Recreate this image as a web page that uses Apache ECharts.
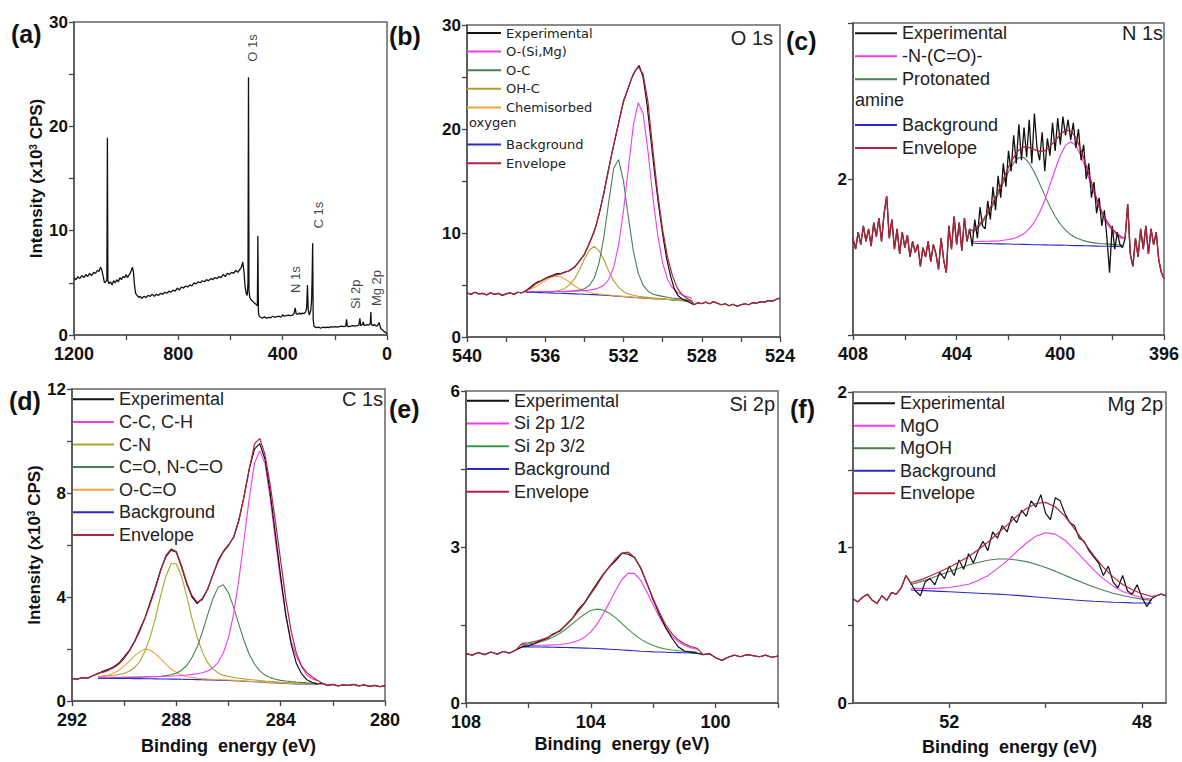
<!DOCTYPE html>
<html><head><meta charset="utf-8">
<script src="https://cdn.jsdelivr.net/npm/echarts@6/dist/echarts.min.js"></script>
<style>html,body{margin:0;padding:0;background:#fff}#c{width:1182px;height:762px}</style>
</head><body><div id="c"></div>
<script>
// ---------------- DATA ----------------
// (a) survey spectrum [binding energy eV, intensity x10^3 CPS]
const aSpectrum = [[1200,5.5],[1192,5.3],[1185,5.6],[1178,5.4],[1170,5.7],[1162,5.5],[1155,5.8],[1148,5.6],[1140,5.9],[1132,5.7],[1125,6.0],[1118,5.9],[1110,6.2],[1104,6.1],[1098,6.5],[1093,6.2],[1088,5.6],[1083,5.0],[1078,5.1],[1074,5.3],[1072,18.9],[1070,5.2],[1066,4.9],[1060,5.1],[1054,4.8],[1048,5.2],[1042,5.0],[1036,5.3],[1030,5.1],[1024,5.5],[1018,5.3],[1012,5.6],[1006,5.5],[1000,5.8],[995,5.5],[990,5.7],[985,5.9],[980,6.2],[976,6.5],[972,6.0],[968,4.8],[964,4.0],[958,3.8],[952,3.6],[946,3.7],[940,3.5],[932,3.7],[924,3.6],[916,3.8],[908,3.7],[900,3.9],[892,3.7],[884,3.9],[876,3.8],[868,4.0],[860,3.9],[852,4.1],[844,4.0],[836,4.2],[828,4.1],[820,4.3],[812,4.2],[804,4.5],[796,4.3],[788,4.6],[780,4.5],[772,4.7],[764,4.6],[756,4.8],[748,4.7],[740,5.0],[732,4.9],[724,5.1],[716,5.0],[708,5.2],[700,5.1],[692,5.3],[684,5.2],[676,5.4],[668,5.3],[660,5.5],[652,5.4],[644,5.6],[636,5.5],[628,5.8],[620,5.6],[612,5.9],[604,5.8],[596,6.0],[588,5.9],[580,6.2],[572,6.0],[564,6.3],[558,6.5],[553,7.0],[548,6.0],[544,4.6],[540,4.0],[536,3.8],[533,5.0],[531,24.7],[529,4.2],[526,3.6],[522,3.4],[518,3.3],[514,3.2],[510,3.1],[505,3.0],[500,2.9],[497,2.8],[495,9.5],[493,2.2],[490,1.8],[485,1.7],[478,1.6],[470,1.75],[462,1.6],[454,1.7],[446,1.65],[438,1.8],[430,1.7],[422,1.75],[414,1.8],[406,1.7],[400,1.95],[394,1.8],[386,1.85],[378,1.9],[370,1.85],[362,1.9],[356,2.1],[352,2.6],[348,2.0],[342,2.0],[336,2.1],[330,2.0],[324,2.1],[318,2.05],[312,2.2],[308,2.6],[305,4.8],[302,2.4],[298,1.9],[292,2.4],[289,3.4],[287,5.5],[285,8.8],[283,1.5],[280,0.85],[276,0.75],[270,0.7],[262,0.75],[254,0.65],[246,0.75],[238,0.7],[230,0.75],[222,0.7],[214,0.8],[206,0.75],[198,0.8],[190,0.75],[182,0.8],[174,0.85],[166,0.8],[158,0.85],[155,1.5],[152,0.85],[146,0.8],[138,0.85],[130,0.9],[122,0.85],[114,0.9],[108,0.95],[104,1.6],[101,0.9],[95,1.0],[91,1.25],[88,0.9],[82,0.95],[76,1.0],[70,0.95],[64,1.1],[62,2.2],[60,1.0],[54,0.9],[48,1.0],[42,0.85],[36,0.9],[30,1.2],[28,1.0],[24,0.6],[18,0.5],[12,0.35],[6,0.25],[0,0.1]];
const aPeakNames = ['O 1s','C 1s','N 1s','Si 2p','Mg 2p'];
const aPeakAt = [[516,27.5],[264,11.5],[349,5.3],[119,3.9],[42,4.5]];

// (b) O 1s
const bExp = [[540.0,4.25],[539.8,4.1],[539.6,4.3],[539.4,4.15],[539.2,4.2],[539.0,4.05],[538.8,4.25],[538.6,4.1],[538.4,4.2],[538.2,4.0],[538.0,4.15],[537.8,4.25],[537.6,4.1],[537.4,4.3],[537.2,4.25],[537.0,4.4],[536.8,4.75],[536.6,5.05],[536.4,5.3],[536.2,5.4],[536.0,5.65],[535.8,5.8],[535.6,5.95],[535.4,6.1],[535.2,6.1],[535.0,6.25],[534.8,6.35],[534.6,6.6],[534.4,6.95],[534.2,7.45],[534.0,7.95],[533.8,8.8],[533.6,9.7],[533.4,10.7],[533.2,12.2],[533.0,13.9],[532.8,15.8],[532.6,17.6],[532.4,19.3],[532.2,21.0],[532.0,22.7],[531.8,23.7],[531.6,24.8],[531.4,25.6],[531.2,26.1],[531.0,25.0],[530.8,22.4],[530.6,19.0],[530.4,15.6],[530.2,12.6],[530.0,9.9],[529.8,7.6],[529.6,5.9],[529.4,4.6],[529.2,3.95],[529.0,3.65],[528.8,3.5],[528.6,3.3],[528.4,3.1],[528.2,3.3],[528.0,3.2],[527.8,3.35],[527.6,3.2],[527.4,3.4],[527.2,3.25],[527.0,3.1],[526.8,3.2],[526.6,3.0],[526.4,3.15],[526.2,2.95],[526.0,3.1],[525.8,3.2],[525.6,3.1],[525.4,3.3],[525.2,3.25],[525.0,3.4],[524.8,3.35],[524.6,3.5],[524.4,3.45],[524.2,3.6],[524.0,3.75]];
const bFitE = [537.0,536.75,536.5,536.25,536.0,535.75,535.5,535.25,535.0,534.75,534.5,534.25,534.0,533.75,533.5,533.25,533.0,532.75,532.5,532.25,532.0,531.75,531.5,531.25,531.0,530.75,530.5,530.25,530.0,529.75,529.5,529.25,529.0,528.75,528.5];
const bOSiMg = [4.39,4.38,4.38,4.38,4.38,4.38,4.37,4.38,4.39,4.40,4.41,4.43,4.47,4.51,4.58,4.73,5.00,5.55,6.71,8.85,12.15,16.25,20.31,22.52,21.51,17.87,13.46,9.77,7.11,5.56,4.74,4.31,4.06,3.88,3.73];
const bOC = [4.37,4.37,4.37,4.37,4.36,4.37,4.37,4.38,4.39,4.41,4.45,4.51,4.64,4.94,5.65,7.11,9.66,13.05,16.25,17.05,14.98,11.51,8.30,6.16,4.99,4.40,4.14,4.00,3.91,3.82,3.75,3.70,3.64,3.55,3.46];
const bOHC = [4.36,4.36,4.36,4.37,4.37,4.38,4.42,4.50,4.67,5.03,5.59,6.46,7.50,8.34,8.72,8.30,7.41,6.32,5.39,4.78,4.36,4.14,4.01,3.92,3.86,3.81,3.76,3.73,3.69,3.65,3.62,3.58,3.54,3.47,3.38];
const bChem = [4.51,4.64,4.82,5.10,5.40,5.69,5.85,5.82,5.58,5.26,4.91,4.62,4.43,4.28,4.19,4.13,4.08,4.04,3.99,3.95,3.91,3.87,3.83,3.79,3.76,3.72,3.69,3.67,3.64,3.61,3.58,3.55,3.51,3.44,3.36];
const bBackground = [4.30,4.29,4.28,4.27,4.25,4.24,4.22,4.21,4.19,4.17,4.15,4.13,4.11,4.09,4.07,4.05,4.02,3.99,3.95,3.92,3.88,3.85,3.81,3.78,3.74,3.71,3.68,3.66,3.63,3.60,3.57,3.54,3.50,3.43,3.35];
const bEnvelope = [4.45,4.7,5.1,5.35,5.6,5.8,5.95,6.05,6.2,6.4,6.7,7.3,7.95,8.95,10.1,11.8,13.8,16.2,18.5,20.6,22.6,24.0,25.3,26.0,25.3,22.6,18.0,13.8,10.3,7.7,5.9,4.7,4.05,3.7,3.45];

// (c) N 1s
const cExp = [[408.0,1.62],[407.9,1.55],[407.8,1.66],[407.7,1.58],[407.6,1.70],[407.5,1.60],[407.4,1.68],[407.3,1.57],[407.2,1.72],[407.1,1.63],[407.0,1.75],[406.9,1.60],[406.8,1.78],[406.7,1.89],[406.6,1.62],[406.5,1.74],[406.4,1.55],[406.3,1.68],[406.2,1.52],[406.1,1.66],[406.0,1.56],[405.9,1.64],[405.8,1.50],[405.7,1.60],[405.6,1.53],[405.5,1.58],[405.4,1.44],[405.3,1.56],[405.2,1.50],[405.1,1.60],[405.0,1.47],[404.9,1.58],[404.8,1.52],[404.7,1.42],[404.6,1.62],[404.5,1.48],[404.4,1.40],[404.3,1.70],[404.2,1.55],[404.1,1.76],[404.0,1.58],[403.9,1.72],[403.8,1.54],[403.7,1.75],[403.6,1.60],[403.5,1.68],[403.4,1.57],[403.3,1.74],[403.2,1.62],[403.1,1.82],[403.0,1.70],[402.9,1.68],[402.8,1.86],[402.7,1.74],[402.6,1.95],[402.5,1.80],[402.4,2.02],[402.3,1.88],[402.2,2.10],[402.1,1.95],[402.0,2.18],[401.9,2.05],[401.8,2.28],[401.7,2.10],[401.6,2.35],[401.5,2.12],[401.4,2.33],[401.3,2.14],[401.2,2.38],[401.1,2.10],[401.0,2.42],[400.9,2.20],[400.8,2.12],[400.7,2.30],[400.6,2.05],[400.5,2.26],[400.4,2.15],[400.3,2.36],[400.2,2.18],[400.1,2.39],[400.0,2.22],[399.9,2.40],[399.8,2.28],[399.7,2.38],[399.6,2.25],[399.5,2.36],[399.4,2.20],[399.3,2.32],[399.2,2.12],[399.1,2.22],[399.0,2.00],[398.9,2.10],[398.8,1.88],[398.7,1.98],[398.6,1.78],[398.5,1.88],[398.4,1.70],[398.3,1.80],[398.2,1.62],[398.1,1.40],[398.0,1.70],[397.9,1.55],[397.8,1.66],[397.7,1.58],[397.6,1.56],[397.5,1.62],[397.4,1.84],[397.3,1.52],[397.2,1.44],[397.1,1.62],[397.0,1.50],[396.9,1.68],[396.8,1.55],[396.7,1.70],[396.6,1.52],[396.5,1.68],[396.4,1.58],[396.3,1.66],[396.2,1.48],[396.1,1.40],[396.0,1.36]];
const cFitE = [403.4,403.2,403.0,402.8,402.6,402.4,402.2,402.0,401.8,401.6,401.4,401.2,401.0,400.8,400.6,400.4,400.2,400.0,399.8,399.6,399.4,399.2,399.0,398.8,398.6,398.4,398.2,398.0,397.8,397.6];
const cNCO = [1.599,1.599,1.600,1.601,1.602,1.603,1.607,1.612,1.618,1.631,1.650,1.680,1.724,1.785,1.864,1.963,2.061,2.151,2.217,2.239,2.215,2.148,2.057,1.957,1.856,1.775,1.714,1.668,1.636,1.615];
const cProtonated = [1.657,1.684,1.721,1.771,1.831,1.901,1.976,2.047,2.103,2.138,2.137,2.101,2.043,1.971,1.895,1.823,1.761,1.710,1.672,1.643,1.623,1.610,1.600,1.594,1.589,1.585,1.584,1.581,1.578,1.576];
const cBackground = [1.588,1.587,1.587,1.586,1.585,1.584,1.584,1.583,1.582,1.582,1.581,1.580,1.579,1.579,1.578,1.577,1.576,1.576,1.575,1.574,1.573,1.573,1.572,1.571,1.570,1.569,1.569,1.568,1.567,1.566];
const cEnvelope = [1.668,1.696,1.734,1.786,1.848,1.920,1.999,2.076,2.139,2.187,2.206,2.201,2.188,2.177,2.181,2.209,2.246,2.285,2.314,2.308,2.265,2.185,2.085,1.980,1.875,1.791,1.729,1.681,1.647,1.625];

// (d) C 1s
const dExp = [[292.0,0.86],[291.8,0.84],[291.6,0.90],[291.4,0.88],[291.2,0.97],[291.0,1.05],[290.8,1.15],[290.6,1.22],[290.4,1.32],[290.2,1.46],[290.0,1.70],[289.8,1.95],[289.6,2.30],[289.4,2.75],[289.2,3.20],[289.0,3.80],[288.8,4.40],[288.6,5.05],[288.4,5.55],[288.2,5.80],[288.0,5.72],[287.8,5.15],[287.6,4.50],[287.4,4.00],[287.2,3.75],[287.0,3.95],[286.8,4.30],[286.6,4.85],[286.4,5.40],[286.2,5.75],[286.0,6.00],[285.8,6.30],[285.6,6.95],[285.4,7.90],[285.2,8.95],[285.0,9.70],[284.8,9.90],[284.6,9.30],[284.4,8.00],[284.2,6.40],[284.0,4.80],[283.8,3.30],[283.6,2.20],[283.4,1.45],[283.2,1.05],[283.0,0.82],[282.8,0.72],[282.6,0.65],[282.4,0.68],[282.2,0.60],[282.0,0.64],[281.8,0.58],[281.6,0.62],[281.4,0.60],[281.2,0.64],[281.0,0.58],[280.8,0.62],[280.6,0.56],[280.4,0.60],[280.2,0.55],[280.0,0.58]];
const dFitE = [291.0,290.8,290.6,290.4,290.2,290.0,289.8,289.6,289.4,289.2,289.0,288.8,288.6,288.4,288.2,288.0,287.8,287.6,287.4,287.2,287.0,286.8,286.6,286.4,286.2,286.0,285.8,285.6,285.4,285.2,285.0,284.8,284.6,284.4,284.2,284.0,283.8,283.6,283.4,283.2,283.0,282.8,282.6];
const dCC = [0.906,0.907,0.909,0.911,0.913,0.916,0.918,0.922,0.925,0.928,0.932,0.937,0.942,0.950,0.959,0.969,0.983,1.001,1.024,1.051,1.087,1.152,1.271,1.478,1.846,2.44,3.36,4.69,6.23,7.83,9.15,9.63,9.13,7.78,6.16,4.60,3.25,2.31,1.71,1.33,1.00,0.86,0.78];
const dCN = [0.949,0.959,0.974,0.991,1.019,1.063,1.142,1.289,1.519,1.917,2.475,3.19,4.05,4.80,5.28,5.28,4.79,4.03,3.17,2.444,1.88,1.474,1.236,1.081,0.994,0.943,0.904,0.876,0.85,0.829,0.81,0.791,0.772,0.754,0.738,0.721,0.71,0.699,0.688,0.682,0.676,0.67,0.664];
const dCO = [0.897,0.898,0.900,0.902,0.904,0.908,0.910,0.913,0.918,0.923,0.932,0.940,0.952,0.975,1.009,1.068,1.186,1.366,1.674,2.074,2.66,3.31,3.93,4.37,4.47,4.16,3.60,2.94,2.31,1.78,1.413,1.158,0.996,0.899,0.836,0.794,0.768,0.745,0.728,0.715,0.703,0.694,0.684];
const dOCO = [0.93,0.956,1.001,1.076,1.186,1.344,1.536,1.734,1.902,1.994,1.961,1.818,1.624,1.416,1.231,1.102,1.001,0.94,0.899,0.875,0.86,0.846,0.835,0.825,0.816,0.808,0.796,0.785,0.773,0.762,0.751,0.738,0.726,0.714,0.702,0.69,0.682,0.674,0.666,0.662,0.658,0.654,0.65];
const dBackground = [0.870,0.869,0.868,0.867,0.866,0.865,0.863,0.861,0.859,0.857,0.855,0.852,0.849,0.846,0.843,0.840,0.836,0.832,0.828,0.824,0.820,0.814,0.808,0.802,0.796,0.790,0.780,0.770,0.760,0.750,0.740,0.728,0.716,0.704,0.692,0.680,0.672,0.664,0.656,0.652,0.648,0.644,0.640];
const dEnvelope = [1.072,1.113,1.18,1.279,1.424,1.636,1.917,2.275,2.687,3.191,3.735,4.331,5.02,5.599,5.85,5.75,5.2,4.55,4.05,3.8,3.9,4.3,4.85,5.35,5.73,5.98,6.32,6.98,7.88,8.95,9.9,10.1,9.47,8.3,6.9,5.4,3.9,2.7,1.85,1.35,1.1,0.93,0.8];

// (e) Si 2p
const eExp = [[108.0,0.95],[107.8,0.92],[107.6,0.97],[107.4,0.93],[107.2,0.98],[107.0,0.94],[106.8,0.99],[106.6,0.96],[106.4,1.02],[106.2,1.08],[106.0,1.10],[105.8,1.14],[105.6,1.20],[105.4,1.24],[105.2,1.33],[105.0,1.38],[104.8,1.50],[104.6,1.62],[104.4,1.80],[104.2,1.93],[104.0,2.12],[103.8,2.30],[103.6,2.48],[103.4,2.62],[103.2,2.74],[103.0,2.88],[102.8,2.86],[102.6,2.80],[102.4,2.60],[102.2,2.30],[102.0,1.98],[101.8,1.70],[101.6,1.45],[101.4,1.25],[101.2,1.08],[101.0,1.00],[100.8,0.98],[100.6,0.96],[100.4,0.93],[100.2,0.95],[100.0,0.87],[99.8,0.82],[99.6,0.88],[99.4,0.92],[99.2,0.89],[99.0,0.93],[98.8,0.91],[98.6,0.89],[98.4,0.92],[98.2,0.88],[98.0,0.90]];
const eFitE = [106.2,106.0,105.8,105.6,105.4,105.2,105.0,104.8,104.6,104.4,104.2,104.0,103.8,103.6,103.4,103.2,103.0,102.8,102.6,102.4,102.2,102.0,101.8,101.6,101.4,101.2,101.0,100.8,100.6];
const eSi12 = [1.104,1.105,1.107,1.11,1.113,1.117,1.126,1.139,1.163,1.203,1.266,1.367,1.512,1.716,1.935,2.168,2.38,2.497,2.489,2.356,2.13,1.884,1.655,1.441,1.287,1.179,1.109,1.062,1.032];
const eSi32 = [1.121,1.133,1.152,1.179,1.218,1.27,1.336,1.424,1.52,1.619,1.708,1.778,1.805,1.788,1.727,1.636,1.525,1.415,1.316,1.228,1.157,1.104,1.065,1.038,1.018,1.005,0.996,0.988,0.981];
const eBackground = [1.080,1.079,1.078,1.076,1.074,1.072,1.070,1.067,1.064,1.060,1.056,1.052,1.047,1.041,1.035,1.028,1.020,1.012,1.004,0.996,0.990,0.984,0.980,0.976,0.972,0.969,0.966,0.963,0.960];
const eEnvelope = [1.145,1.159,1.181,1.213,1.257,1.315,1.392,1.496,1.619,1.762,1.918,2.093,2.27,2.463,2.627,2.776,2.885,2.90,2.801,2.588,2.297,2.004,1.74,1.503,1.333,1.215,1.139,1.087,1.053];

// (f) Mg 2p
const fExp = [[54.0,0.67],[53.9,0.65],[53.8,0.68],[53.7,0.70],[53.6,0.66],[53.5,0.64],[53.4,0.69],[53.3,0.66],[53.2,0.71],[53.1,0.70],[53.0,0.74],[52.9,0.82],[52.8,0.77],[52.7,0.72],[52.6,0.69],[52.5,0.78],[52.4,0.80],[52.3,0.76],[52.2,0.84],[52.1,0.80],[52.0,0.88],[51.9,0.82],[51.8,0.92],[51.7,0.86],[51.6,0.96],[51.5,0.90],[51.4,0.98],[51.3,1.04],[51.2,0.98],[51.1,1.10],[51.0,1.06],[50.9,1.14],[50.8,1.10],[50.7,1.20],[50.6,1.16],[50.5,1.24],[50.4,1.20],[50.3,1.30],[50.2,1.26],[50.1,1.34],[50.0,1.22],[49.9,1.18],[49.8,1.32],[49.7,1.30],[49.6,1.22],[49.5,1.16],[49.4,1.14],[49.3,1.06],[49.2,1.04],[49.1,0.98],[49.0,0.94],[48.9,0.90],[48.8,0.82],[48.7,0.88],[48.6,0.78],[48.5,0.74],[48.4,0.82],[48.3,0.72],[48.2,0.70],[48.1,0.76],[48.0,0.68],[47.9,0.62],[47.8,0.67],[47.7,0.69],[47.6,0.70],[47.5,0.69]];
const fFitE = [52.8,52.6,52.4,52.2,52.0,51.8,51.6,51.4,51.2,51.0,50.8,50.6,50.4,50.2,50.0,49.8,49.6,49.4,49.2,49.0,48.8,48.6,48.4,48.2,48.0,47.8];
const fMgO = [0.738,0.737,0.737,0.739,0.743,0.752,0.764,0.788,0.819,0.864,0.914,0.973,1.029,1.073,1.095,1.086,1.047,0.987,0.921,0.856,0.798,0.753,0.717,0.694,0.678,0.667];
const fMgOH = [0.762,0.779,0.801,0.823,0.845,0.867,0.887,0.904,0.918,0.926,0.926,0.92,0.909,0.892,0.872,0.848,0.822,0.795,0.77,0.746,0.725,0.706,0.691,0.678,0.668,0.66];
const fBackground = [0.727,0.724,0.721,0.718,0.715,0.712,0.709,0.706,0.703,0.700,0.696,0.692,0.687,0.682,0.677,0.672,0.667,0.662,0.658,0.654,0.651,0.648,0.646,0.644,0.643,0.642];
const fEnvelope = [0.773,0.792,0.817,0.844,0.873,0.907,0.942,0.986,1.034,1.09,1.144,1.201,1.251,1.283,1.29,1.262,1.202,1.12,1.033,0.948,0.872,0.811,0.762,0.728,0.703,0.685];
// tick / label values for the Mg 2p energy axis
const fTicks = [48, 50, 52];
const fTickLabels = [48, 52];

// ---------------- BUILD ----------------
const FONT = '"Liberation Sans", Arial, sans-serif';
const C = { exp:'#111111', mag:'#ee3cee', green:'#4a7d55', green2:'#3a9a45', olive:'#a6a62a', orange:'#f2a33c', blue:'#2b2bc8', env:'#b0243c' };
const zip = (xs, ys) => xs.map((x, i) => [x, ys[i]]);
function fullEnvelope(exp, fitE, fitY) {
  const hi = fitE[0], lo = fitE[fitE.length - 1];
  return exp.filter(p => p[0] > hi + 1e-9).concat(zip(fitE, fitY), exp.filter(p => p[0] < lo - 1e-9));
}
const isMultiple = (v, s) => Math.abs(v / s - Math.round(v / s)) < 1e-6;

const grids = [
  {left:74, top:22, width:313, height:313},
  {left:467, top:25, width:313, height:312},
  {left:853, top:23, width:313, height:312},
  {left:72, top:389, width:313, height:312},
  {left:466, top:391, width:312, height:312},
  {left:853, top:392, width:313, height:311}
].map(g => Object.assign({show:true, borderColor:'#666', borderWidth:1.5, backgroundColor:'transparent'}, g));

function xAx(i, min, max, step, every, name, gap) {
  return { gridIndex:i, type:'value', min, max, interval:step, inverse:true,
    axisLine:{show:true, onZero:false, lineStyle:{color:'#555', width:1.6}},
    axisTick:{show:true, inside:false, length:5, lineStyle:{color:'#444', width:1.3}},
    splitLine:{show:false},
    axisLabel:{show:true, margin:11, lineHeight:15, color:'#111', fontSize:18, fontWeight:'bold', fontFamily:FONT, showMinLabel:true, showMaxLabel:true,
      formatter: v => isMultiple(v, every) ? String(v) : ''},
    name: name || '', nameLocation:'middle', nameGap: gap || 30,
    nameTextStyle:{color:'#111', fontSize:18, fontWeight:'bold', fontFamily:FONT} };
}
function yAx(i, min, max, step, every, withName) {
  return { gridIndex:i, type:'value', min, max, interval:step,
    axisLine:{show:true, onZero:false, lineStyle:{color:'#555', width:1.6}},
    axisTick:{show:true, inside:false, length:5, lineStyle:{color:'#444', width:1.3}},
    splitLine:{show:false},
    axisLabel:{show:true, margin:6, lineHeight:14, color:'#111', fontSize:17, fontWeight:'bold', fontFamily:FONT, showMinLabel:true, showMaxLabel:true,
      formatter: v => isMultiple(v, every) ? String(v) : ''},
    name: withName ? 'Intensity (x10{sup|3} CPS)' : '', nameLocation:'middle', nameGap:26, nameRotate:90,
    nameTextStyle:{color:'#111', fontSize:17, fontWeight:'bold', fontFamily:FONT,
      rich:{sup:{fontSize:10, fontWeight:'bold', fontFamily:FONT, color:'#111', verticalAlign:'top', lineHeight:10}}} };
}
const BE = 'Binding  energy (eV)';
const fAxis = xAx(5, 47.5, 54, 0.5, 4, BE, 35);
fAxis.axisTick.customValues = fTicks;
fAxis.axisLabel.customValues = fTickLabels;
fAxis.axisLabel.formatter = v => String(v);
const xAxes = [
  xAx(0, 0, 1200, 200, 400),
  xAx(1, 524, 540, 2, 4),
  xAx(2, 396, 408, 2, 4),
  xAx(3, 280, 292, 2, 4, BE, 36),
  xAx(4, 98, 108, 2, 4, BE, 32),
  fAxis
];
const yAxes = [
  yAx(0, 0, 30, 5, 10, true),
  yAx(1, 0, 30, 5, 10),
  yAx(2, 1, 3, 1, 2),
  yAx(3, 0, 12, 2, 4, true),
  yAx(4, 0, 6, 1.5, 3),
  yAx(5, 0, 2, 0.5, 1)
];

function line(name, i, data, color, width, z) {
  return { type:'line', name, xAxisIndex:i, yAxisIndex:i, data, showSymbol:false, symbol:'none',
    color, lineStyle:{color, width: width || 1.1}, itemStyle:{color}, silent:true, animation:false, z: z || 2 };
}

const series = [
  line('Survey', 0, aSpectrum, C.exp, 1.3),
  { type:'scatter', xAxisIndex:0, yAxisIndex:0, symbolSize:0, silent:true, animation:false,
    data: aPeakNames.map((n, k) => ({name:n, value:aPeakAt[k]})),
    label:{show:true, position:'inside', rotate:90, formatter:'{b}', fontSize:13, color:'#111', fontFamily:FONT} },

  line('Background', 1, zip(bFitE, bBackground), C.blue, 1.1),
  line('Chemisorbed oxygen', 1, zip(bFitE, bChem), C.orange),
  line('OH-C', 1, zip(bFitE, bOHC), C.olive),
  line('O-C', 1, zip(bFitE, bOC), C.green),
  line('O-(Si,Mg)', 1, zip(bFitE, bOSiMg), C.mag),
  line('Experimental', 1, bExp, C.exp, 1.2, 3),
  line('Envelope', 1, fullEnvelope(bExp, bFitE, bEnvelope), C.env, 1.2, 4),

  line('Background', 2, zip(cFitE, cBackground), C.blue, 1.1),
  line('Protonated amine', 2, zip(cFitE, cProtonated), C.green),
  line('-N-(C=O)-', 2, zip(cFitE, cNCO), C.mag),
  line('Experimental', 2, cExp, C.exp, 1.3, 3),
  line('Envelope', 2, fullEnvelope(cExp, cFitE, cEnvelope), C.env, 1.3, 4),

  line('Background', 3, zip(dFitE, dBackground), C.blue, 1.1),
  line('O-C=O', 3, zip(dFitE, dOCO), C.orange),
  line('C-N', 3, zip(dFitE, dCN), C.olive),
  line('C=O, N-C=O', 3, zip(dFitE, dCO), C.green),
  line('C-C, C-H', 3, zip(dFitE, dCC), C.mag),
  line('Experimental', 3, dExp, C.exp, 1.2, 3),
  line('Envelope', 3, fullEnvelope(dExp, dFitE, dEnvelope), C.env, 1.2, 4),

  line('Background', 4, zip(eFitE, eBackground), C.blue, 1.1),
  line('Si 2p 3/2', 4, zip(eFitE, eSi32), C.green2),
  line('Si 2p 1/2', 4, zip(eFitE, eSi12), C.mag),
  line('Experimental', 4, eExp, C.exp, 1.2, 3),
  line('Envelope', 4, fullEnvelope(eExp, eFitE, eEnvelope), C.env, 1.2, 4),

  line('Background', 5, zip(fFitE, fBackground), C.blue, 1.1),
  line('MgOH', 5, zip(fFitE, fMgOH), C.green),
  line('MgO', 5, zip(fFitE, fMgO), C.mag),
  line('Experimental', 5, fExp, C.exp, 1.2, 3),
  line('Envelope', 5, fullEnvelope(fExp, fFitE, fEnvelope), C.env, 1.2, 4)
];

const legendName = n => n === 'Chemisorbed oxygen' ? 'Chemisorbed' : (n === 'Protonated amine' ? 'Protonated' : n);
function leg(names, left, top, iw, fontSize, lh, family) {
  return { data:names, left, top, orient:'vertical', padding:0, itemGap:0, itemWidth:iw, itemHeight:2, icon:'rect',
    selectedMode:false, formatter:legendName,
    textStyle:{fontSize, lineHeight:lh, color:'#222', fontFamily: family || FONT} };
}
const DJ = '"DejaVu Sans", sans-serif';
const legends = [
  leg(['Experimental','O-(Si,Mg)','O-C','OH-C','Chemisorbed oxygen'], 467, 23.7, 34, 13, 18.6, DJ),
  leg(['Background','Envelope'], 467, 135.3, 34, 13, 18.6, DJ),
  leg(['Experimental','-N-(C=O)-','Protonated amine'], 855, 21.9, 42, 18, 22.9),
  leg(['Background','Envelope'], 855, 113.6, 42, 18, 22.9),
  leg(['Experimental','C-C, C-H','C-N','C=O, N-C=O','O-C=O','Background','Envelope'], 73, 388, 41, 18, 22.6),
  leg(['Experimental','Si 2p 1/2','Si 2p 3/2','Background','Envelope'], 467, 389.3, 42, 18, 22.75),
  leg(['Experimental','MgO','MgOH','Background','Envelope'], 854, 392, 41, 18, 22.5)
];

const letterStyle = {fontSize:25, fontWeight:'bold', color:'#111', fontFamily:FONT};
const elemStyle = {fontSize:20, fontWeight:'normal', color:'#222', fontFamily:FONT};
const titles = [
  {text:'(a)', left:11, top:21, padding:0, textStyle:letterStyle},
  {text:'(b)', left:389, top:23, padding:0, textStyle:letterStyle},
  {text:'(c)', left:786, top:28, padding:0, textStyle:letterStyle},
  {text:'(d)', left:9, top:388, padding:0, textStyle:letterStyle},
  {text:'(e)', left:389, top:396, padding:0, textStyle:letterStyle},
  {text:'(f)', left:790, top:396, padding:0, textStyle:letterStyle},
  {text:'O 1s', right:409, top:28, padding:0, textStyle:elemStyle},
  {text:'N 1s', right:19, top:23, padding:0, textStyle:elemStyle},
  {text:'C 1s', right:799, top:389, padding:0, textStyle:elemStyle},
  {text:'Si 2p', right:407, top:394, padding:0, textStyle:elemStyle},
  {text:'Mg 2p', right:19, top:394, padding:0, textStyle:elemStyle}
];

const chart = echarts.init(document.getElementById('c'), null, {renderer:'svg'});
chart.setOption({
  backgroundColor:'#fff', animation:false,
  title: titles, grid: grids, xAxis: xAxes, yAxis: yAxes, legend: legends, series,
  graphic: [
    {type:'text', left:469, top:116, style:{text:'oxygen', font:'13px "DejaVu Sans", sans-serif', fill:'#222'}},
    {type:'text', left:855, top:91, style:{text:'amine', font:'18px "Liberation Sans", Arial, sans-serif', fill:'#222'}}
  ]
});
</script></body></html>
